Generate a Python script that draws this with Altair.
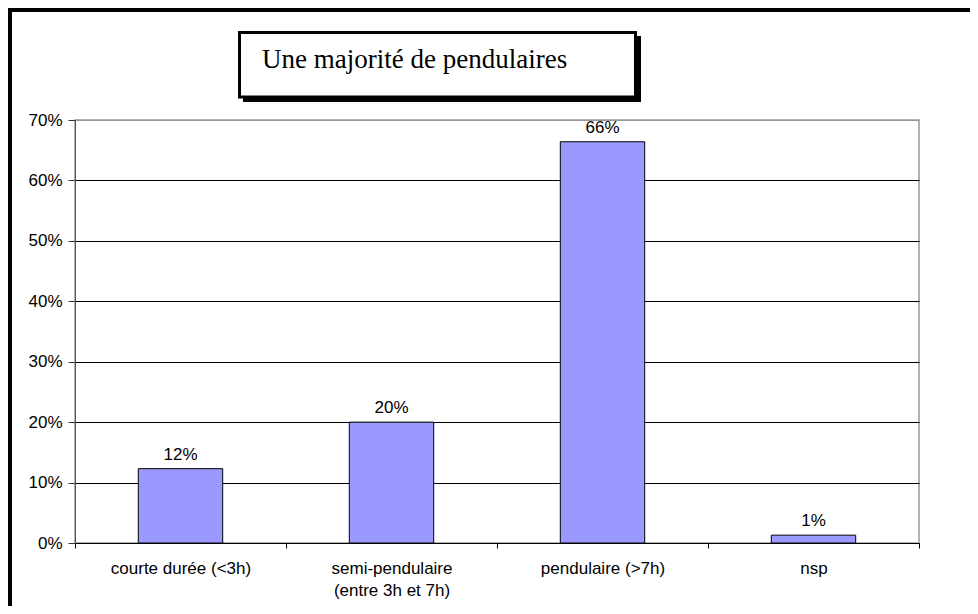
import altair as alt
import pandas as pd

# ---- data ----
categories = ["courte durée (<3h)", "semi-pendulaire\n(entre 3h et 7h)", "pendulaire (>7h)", "nsp"]
shares = [0.123, 0.200, 0.664, 0.013]
y_ticks = [0, 0.1, 0.2, 0.3, 0.4, 0.5, 0.6, 0.7]
title_text = "Une majorité de pendulaires"

df = pd.DataFrame({"cat": categories, "share": shares})

W, H = 844, 423
SANS = "Liberation Sans"
SERIF = "Liberation Serif"
FS = 17

x_enc = alt.X(
    "cat:N",
    sort=categories,
    title=None,
    scale=alt.Scale(paddingInner=0, paddingOuter=0),
    axis=alt.Axis(
        labelAngle=0,
        tickBand="extent",
        labelExpr="split(datum.label, '\\n')",
        labelLineHeight=22,
        labelPadding=12,
        tickSize=5,
        tickColor="black",
        domainColor="black",
        grid=False,
        labelFont=SANS,
        labelFontSize=FS,
        labelColor="black",
    ),
)
y_enc = alt.Y(
    "share:Q",
    title=None,
    scale=alt.Scale(domain=[0, 0.7], nice=False),
    axis=alt.Axis(
        values=y_ticks,
        format=".0%",
        tickSize=7,
        tickColor="#333333",
        domainColor="#555555",
        labelPadding=6,
        labelFont=SANS,
        labelFontSize=FS,
        labelColor="black",
        grid=True,
        gridColor={"condition": {"test": "datum.value > 0.69", "value": "#999999"}, "value": "#000000"},
        gridWidth=1,
    ),
)

base = alt.Chart(df).encode(x=x_enc, y=y_enc)

bars = base.mark_bar(
    width=alt.RelativeBandSize(0.4), color="#9999FF", stroke="black", strokeWidth=1
)
labels = base.mark_text(
    dy=-9, baseline="alphabetic", font=SANS, fontSize=FS, color="black"
).encode(text=alt.Text("share:Q", format=".0%"))

deco = alt.Chart(alt.Data(values=[{"k": 1}]))
shadow = deco.mark_rect(color="black").encode(
    x=alt.value(168), x2=alt.value(566), y=alt.value(-84), y2=alt.value(-18)
)
box = deco.mark_rect(fill="white", stroke="black", strokeWidth=3).encode(
    x=alt.value(164.5), x2=alt.value(560.5), y=alt.value(-87.5), y2=alt.value(-23)
)
title = deco.mark_text(
    align="left", baseline="alphabetic", font=SERIF, fontSize=27, color="black"
).encode(x=alt.value(187), y=alt.value(-52.5), text=alt.value(title_text))
left_border = deco.mark_rule(color="black", strokeWidth=4).encode(
    x=alt.value(-65), y=alt.value(-112), y2=alt.value(500)
)
top_border = deco.mark_rule(color="black", strokeWidth=4).encode(
    x=alt.value(-67), x2=alt.value(900), y=alt.value(-110)
)

chart = (
    alt.layer(bars, labels, shadow, box, title, left_border, top_border)
    .properties(
        width=W,
        height=H,
        autosize=alt.AutoSizeParams(type="none"),
        padding={"left": 67, "top": 112, "right": 51, "bottom": 63},
        background="white",
    )
    .configure_view(stroke="#999999", strokeWidth=1.5)
)

chart.save("out.html", embed_options={"renderer": "svg", "actions": False})
